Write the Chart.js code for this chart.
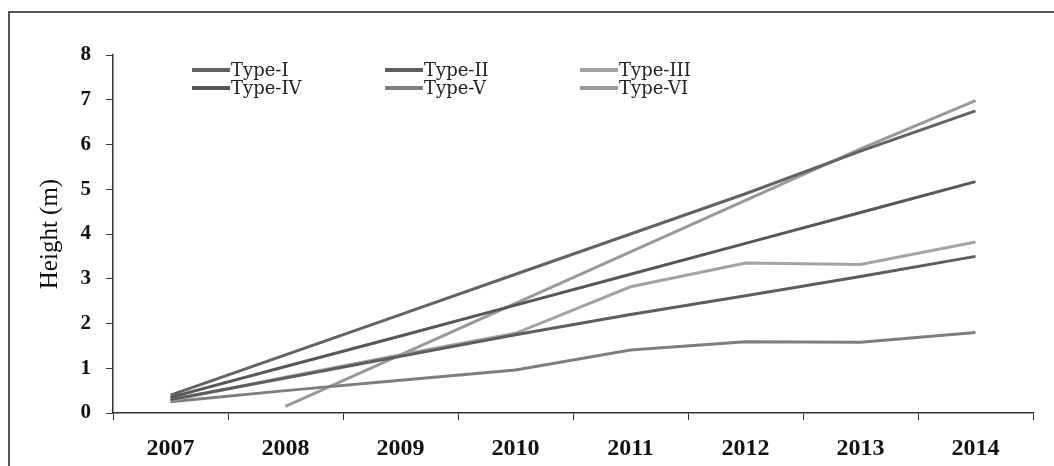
<!DOCTYPE html>
<html>
<head>
<meta charset="utf-8">
<script src="https://cdn.jsdelivr.net/npm/chart.js@4/dist/chart.umd.min.js"></script>
<style>
  html, body { margin: 0; padding: 0; background: #fff; }
  #wrap { width: 1054px; height: 466px; }
</style>
</head>
<body>
<div id="wrap"><canvas id="myChart" width="1054" height="466"></canvas></div>
<script>
const years = ['2007', '2008', '2009', '2010', '2011', '2012', '2013', '2014'];
const typeI   = [0.40, 1.30, 2.20, 3.10, 4.00, 4.90, 5.85, 6.75];
const typeII  = [0.30, 0.78, 1.27, 1.75, 2.20, 2.62, 3.05, 3.50];
const typeIII = [0.28, 0.80, 1.30, 1.78, 2.82, 3.35, 3.32, 3.82];
const typeIV  = [0.35, 1.04, 1.72, 2.41, 3.10, 3.79, 4.48, 5.17];
const typeV   = [0.25, 0.50, 0.73, 0.96, 1.41, 1.59, 1.58, 1.80];
const typeVI  = [null, 0.15, 1.30, 2.45, 3.60, 4.75, 5.90, 6.98];

const seriesNames = ['Type-I', 'Type-II', 'Type-III', 'Type-IV', 'Type-V', 'Type-VI'];
const seriesColors = ['#636363', '#5e5e5e', '#a3a3a3', '#575757', '#7e7e7e', '#999999'];
const seriesData = [typeI, typeII, typeIII, typeIV, typeV, typeVI];

// frame round the whole figure (only left and top edge are visible)
const framePlugin = {
    id: 'frame',
    beforeDraw(chart) {
        const c = chart.ctx;
        c.save();
        c.strokeStyle = '#555';
        c.lineWidth = 2;
        c.beginPath();
        c.moveTo(9, 466);
        c.lineTo(9, 12);
        c.lineTo(1054, 12);
        c.stroke();
        c.restore();
    }
};

// legend inside the plot, 3 columns x 2 rows
const legendPlugin = {
    id: 'gridLegend',
    afterDraw(chart) {
        const c = chart.ctx;
        const colX = [192, 385, 580];
        const rowY = [70, 88];
        c.save();
        c.font = '18px "DejaVu Serif"';
        c.textBaseline = 'middle';
        chart.data.datasets.forEach((ds, i) => {
            const x = colX[i % 3];
            const y = rowY[Math.floor(i / 3)];
            c.strokeStyle = ds.borderColor;
            c.lineWidth = 4;
            c.beginPath();
            c.moveTo(x, y);
            c.lineTo(x + 38, y);
            c.stroke();
            c.fillStyle = '#222';
            c.fillText(ds.label, x + 39, y + 1);
        });
        c.restore();
    }
};

const ctx = document.getElementById('myChart').getContext('2d');
const myChart = new Chart(ctx, {
    type: 'line',
    data: {
        labels: years,
        datasets: seriesNames.map((name, i) => ({
            label: name,
            data: seriesData[i],
            borderColor: seriesColors[i],
            backgroundColor: seriesColors[i],
            borderWidth: 3,
            pointRadius: 0,
            tension: 0,
            fill: false
        }))
    },
    options: {
        responsive: false,
        animation: false,
        layout: { padding: { left: 0, right: 21, top: 55, bottom: 0 } },
        plugins: {
            legend: { display: false },
            tooltip: { enabled: false }
        },
        scales: {
            x: {
                offset: true,
                grid: {
                    offset: true,
                    drawOnChartArea: false,
                    drawTicks: true,
                    tickLength: 7,
                    color: '#333'
                },
                border: { display: true, color: '#333', width: 1.5 },
                ticks: {
                    color: '#111',
                    padding: 14,
                    font: { family: '"Liberation Serif"', size: 24, weight: 'bold' }
                },
                afterFit(scale) { scale.height = 53; }
            },
            y: {
                min: 0,
                max: 8,
                grid: {
                    drawOnChartArea: false,
                    drawTicks: true,
                    tickLength: 7,
                    color: '#333'
                },
                border: { display: true, color: '#333', width: 1.5 },
                ticks: {
                    stepSize: 1,
                    color: '#111',
                    padding: 15,
                    font: { family: '"Liberation Serif"', size: 21, weight: 'bold' }
                },
                title: {
                    display: true,
                    text: 'Height (m)',
                    color: '#111',
                    padding: { top: 35, bottom: 0 },
                    font: { family: '"Liberation Serif"', size: 25 }
                },
                afterFit(scale) { scale.width = 113; }
            }
        }
    },
    plugins: [framePlugin, legendPlugin]
});
</script>
</body>
</html>
